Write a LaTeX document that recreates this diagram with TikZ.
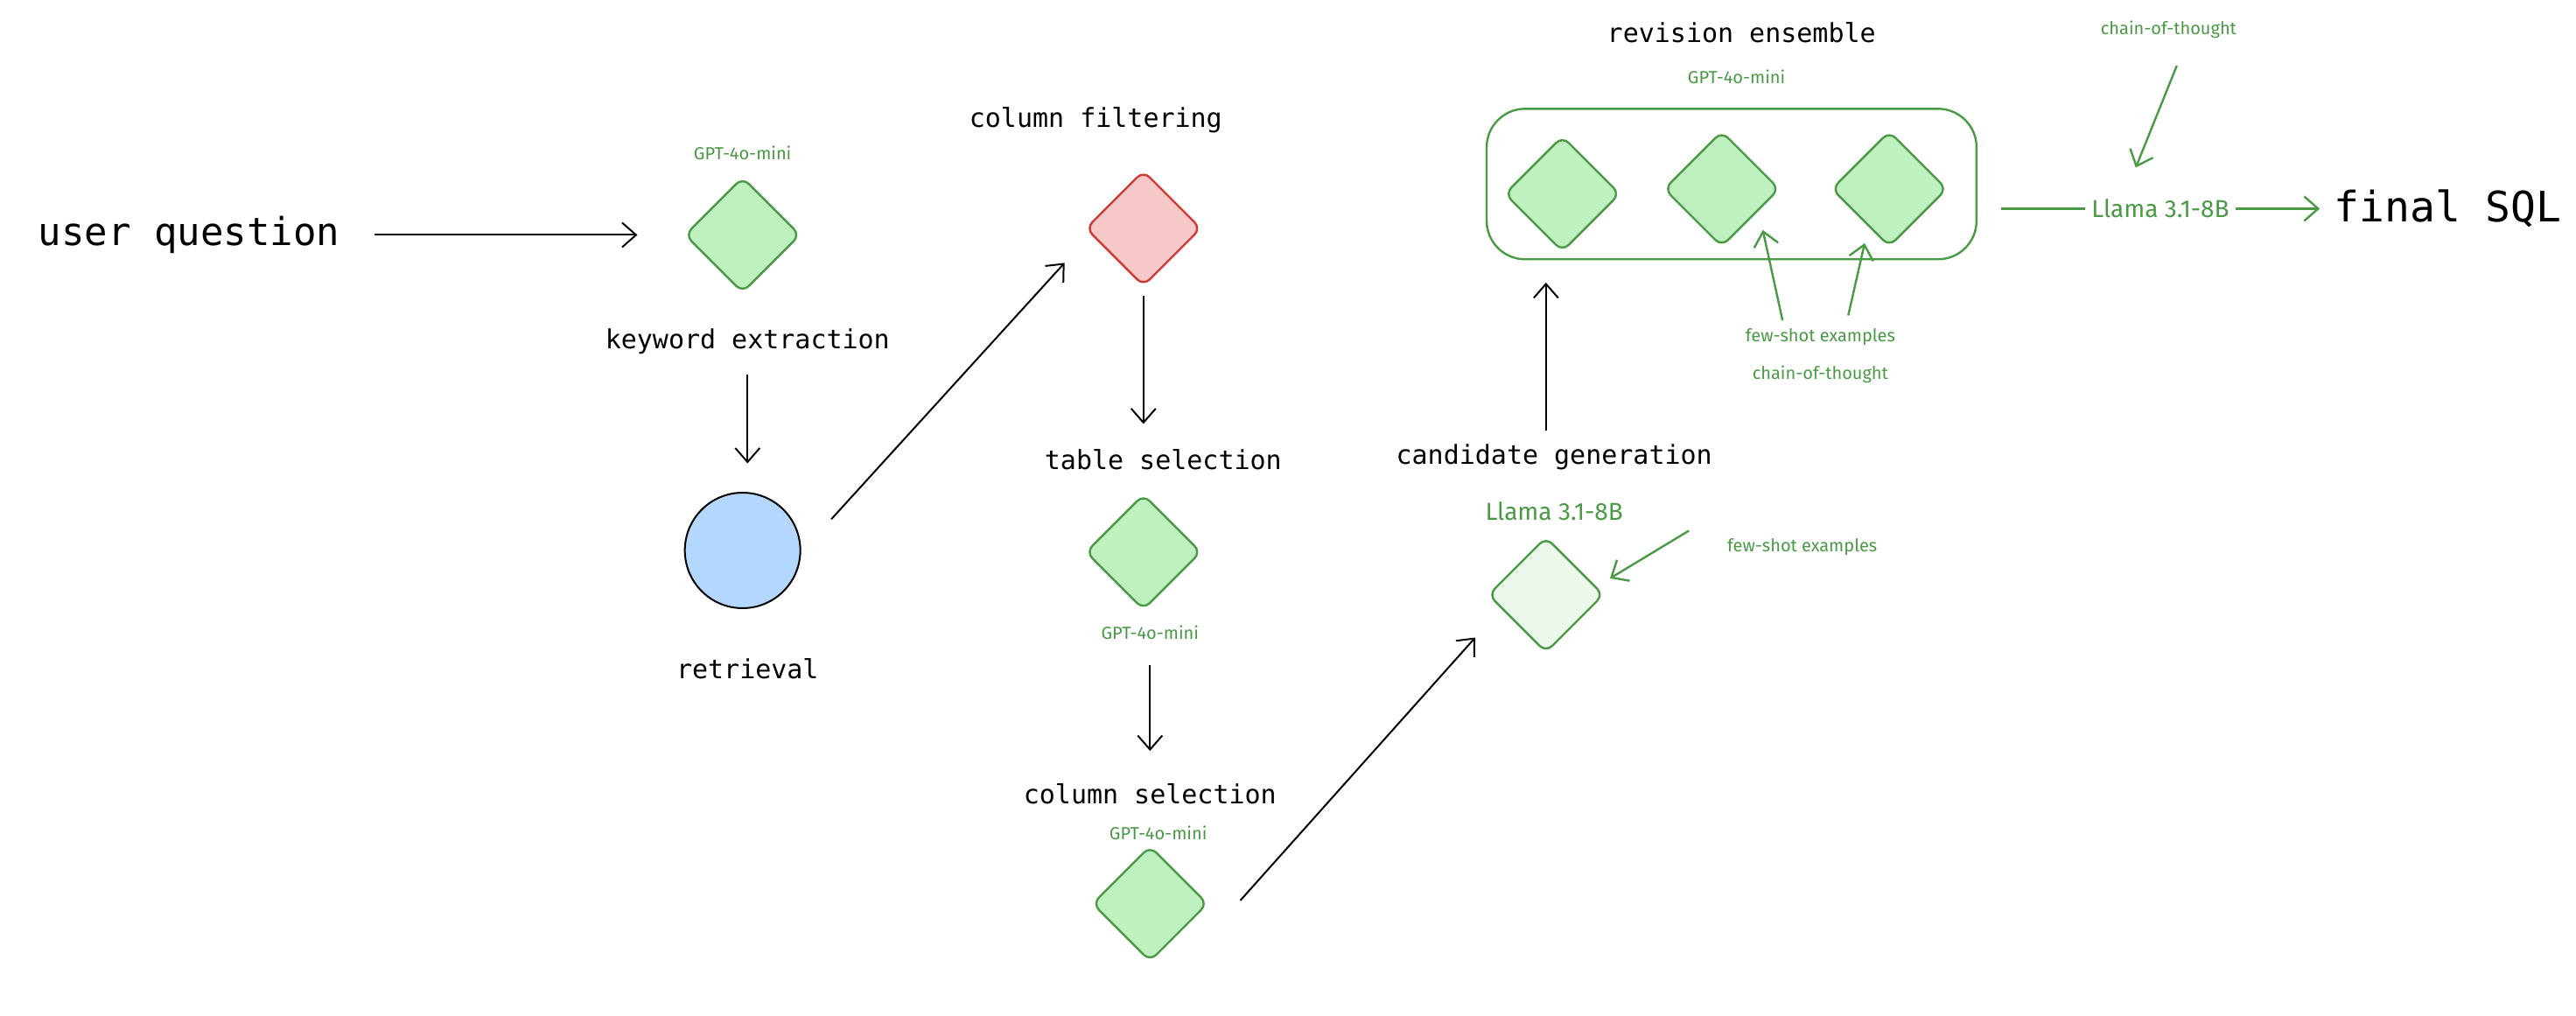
\documentclass[tikz,border=0pt]{standalone}
\usepackage{fontspec}
\setmainfont{Fira Sans}
\setmonofont{DejaVu Sans Mono}
\usetikzlibrary{arrows.meta,shapes.geometric}
\definecolor{gst}{HTML}{4A9A45}
\definecolor{gfill}{HTML}{BFF0C0}
\definecolor{lgfill}{HTML}{EBF8EB}
\definecolor{rst}{HTML}{D03A32}
\definecolor{rfill}{HTML}{F7C8C8}
\definecolor{bfill}{HTML}{B3D7FF}
\tikzset{
 dia/.style={diamond,draw=gst,fill=gfill,line width=1.2pt,minimum width=66pt,minimum height=66pt,rounded corners=5pt,inner sep=0pt},
 lab/.style={font=\ttfamily\fontsize{15}{17}\selectfont,text=black},
 glab/.style={font=\fontsize{10}{12}\selectfont,text=gst},
 gbig/.style={font=\fontsize{14}{16}\selectfont,text=gst},
 arr/.style={-{Straight Barb[length=8pt,width=14pt]},line width=1pt,black},
 garr/.style={-{Straight Barb[length=8pt,width=14pt]},line width=1.2pt,gst},
}
\begin{document}
\begin{tikzpicture}[x=0.939pt,y=-0.939pt]
\useasboundingbox (0,0) rectangle (1568,618);
\node[font=\ttfamily\fontsize{22}{24}\selectfont] (uq) at (115,143) {user question};
\node[dia] (d1) at (452,143) {};
\node[glab] (g1) at (452,93) {GPT-4o-mini};
\node[lab] (l1) at (455,208) {keyword extraction};
\node[circle,draw=black,line width=1pt,fill=bfill,minimum size=66pt] (ret) at (452,335) {};
\node[lab] (l2) at (455,407) {retrieval};
\node[lab] (l3) at (667,73) {column filtering};
\node[dia,draw=rst,fill=rfill] (d2) at (696,139) {};
\node[lab] (l4) at (708,280) {table selection};
\node[dia] (d3) at (696,336) {};
\node[glab] (g3) at (700,385) {GPT-4o-mini};
\node[lab] (l5) at (700,483) {column selection};
\node[glab] (g5) at (705,507) {GPT-4o-mini};
\node[dia] (d5) at (700,550) {};
\node[lab] (l6) at (946,278) {candidate generation};
\node[gbig] (ll1) at (946,311) {Llama 3.1-8B};
\node[dia,fill=lgfill] (d6) at (941,362) {};
\node[glab] (fs1) at (1097,333) {few-shot examples};
\node[draw=gst,line width=1.2pt,rounded corners=22pt,minimum width=280pt,minimum height=86pt] (box) at (1054,112) {};
\node[dia] (e1) at (951,118) {};
\node[dia] (e2) at (1048,115) {};
\node[dia] (e3) at (1150,115) {};
\node[glab] (g6) at (1057,47) {GPT-4o-mini};
\node[lab] (l7) at (1060,20) {revision ensemble};
\node[glab] (fs2) at (1108,205) {few-shot examples};
\node[glab] (ct2) at (1108,228) {chain-of-thought};
\node[gbig] (ll2) at (1315,127) {Llama 3.1-8B};
\node[font=\ttfamily\fontsize{24}{26}\selectfont] (sql) at (1490,127) {final SQL};
\node[glab] (ct1) at (1320,18) {chain-of-thought};
\coordinate (a0) at (228,143); \coordinate (a1) at (388,143);
\draw[arr] (a0) -- (a1);
\draw[arr] (455,228) -- (455,282);
\draw[arr] (506,316) -- (648,160);
\draw[arr] (696,180) -- (696,258);
\draw[arr] (700,405) -- (700,457);
\draw[arr] (755,548) -- (898,388);
\draw[arr] (941,262) -- (941,172);
\draw[garr] (1028,323) -- (980,352);
\draw[garr] (1085,195) -- (1073,140);
\draw[garr] (1125,192) -- (1135,148);
\draw[gst,line width=1.2pt] (1218,127) -- (ll2.west);
\draw[garr] (ll2.east) -- (1412,127);
\draw[garr] (1325,40) -- (1300,102);
\end{tikzpicture}
\end{document}
